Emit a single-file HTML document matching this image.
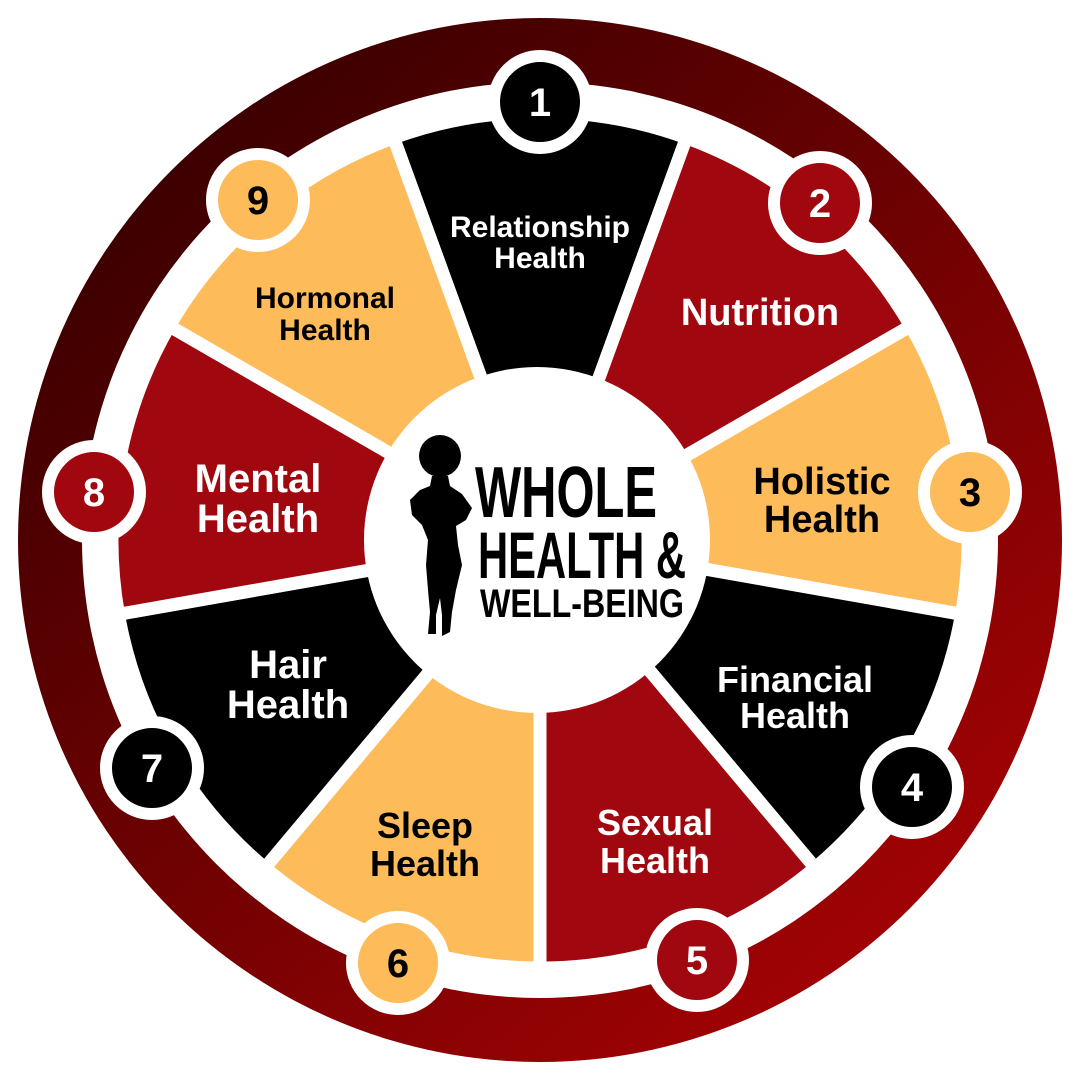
<!DOCTYPE html>
<html><head><meta charset="utf-8"><style>
html,body{margin:0;padding:0;background:#fff;}
svg{display:block}
.l{font-family:"Liberation Sans",Arial,sans-serif;font-weight:bold;text-anchor:middle}
.n{font-family:"Liberation Sans",Arial,sans-serif;font-weight:bold;text-anchor:middle;font-size:40px}
.c{font-family:"Liberation Sans",Arial,sans-serif;font-weight:bold}
</style></head><body>
<svg width="1080" height="1080" viewBox="0 0 1080 1080">
<defs>
<linearGradient id="g" x1="0.15" y1="0.1" x2="0.85" y2="0.9">
<stop offset="0" stop-color="#3a0000"/><stop offset="1" stop-color="#a30204"/>
</linearGradient>
<path id="w" d="M540,540 L393.6,137.8 A428,428 0 0 1 686.4,137.8 Z"/>
</defs>
<circle cx="540" cy="540" r="522" fill="url(#g)"/>
<circle cx="540" cy="540" r="458" fill="#fff"/>
<g stroke="#fff" stroke-width="13" stroke-linejoin="miter">
<use href="#w" fill="#000" transform="rotate(0 540 540)"/>
<use href="#w" fill="#a0070f" transform="rotate(40 540 540)"/>
<use href="#w" fill="#fdbb5a" transform="rotate(80 540 540)"/>
<use href="#w" fill="#000" transform="rotate(120 540 540)"/>
<use href="#w" fill="#a0070f" transform="rotate(160 540 540)"/>
<use href="#w" fill="#fdbb5a" transform="rotate(200 540 540)"/>
<use href="#w" fill="#000" transform="rotate(240 540 540)"/>
<use href="#w" fill="#a0070f" transform="rotate(280 540 540)"/>
<use href="#w" fill="#fdbb5a" transform="rotate(320 540 540)"/>
</g>
<circle cx="537" cy="540" r="173" fill="#fff"/>
<g stroke="#fff" stroke-width="12">
<circle cx="540" cy="102" r="46" fill="#000"/>
<circle cx="820" cy="203" r="46" fill="#a0070f"/>
<circle cx="970" cy="492" r="46" fill="#fdbb5a"/>
<circle cx="912" cy="787" r="46" fill="#000"/>
<circle cx="697" cy="960" r="46" fill="#a0070f"/>
<circle cx="398" cy="963" r="46" fill="#fdbb5a"/>
<circle cx="152" cy="768" r="46" fill="#000"/>
<circle cx="94" cy="492" r="46" fill="#a0070f"/>
<circle cx="258" cy="200" r="46" fill="#fdbb5a"/>
</g>
<g class="n">
<text x="540" y="116" fill="#fff">1</text>
<text x="820" y="217" fill="#fff">2</text>
<text x="970" y="506" fill="#000">3</text>
<text x="912" y="801" fill="#fff">4</text>
<text x="697" y="974" fill="#fff">5</text>
<text x="398" y="977" fill="#000">6</text>
<text x="152" y="782" fill="#fff">7</text>
<text x="94" y="506" fill="#fff">8</text>
<text x="258" y="214" fill="#000">9</text>
</g>
<g class="l">
<text x="540" y="237" font-size="30" fill="#fff">Relationship</text>
<text x="540" y="268" font-size="30" fill="#fff">Health</text>
<text x="760" y="325" font-size="38" fill="#fff">Nutrition</text>
<text x="822" y="494" font-size="38" fill="#000">Holistic</text>
<text x="822" y="532" font-size="38" fill="#000">Health</text>
<text x="795" y="692" font-size="36" fill="#fff">Financial</text>
<text x="795" y="728" font-size="36" fill="#fff">Health</text>
<text x="655" y="835" font-size="36" fill="#fff">Sexual</text>
<text x="655" y="873" font-size="36" fill="#fff">Health</text>
<text x="425" y="838" font-size="36" fill="#000">Sleep</text>
<text x="425" y="876" font-size="36" fill="#000">Health</text>
<text x="288" y="678" font-size="40" fill="#fff">Hair</text>
<text x="288" y="718" font-size="40" fill="#fff">Health</text>
<text x="258" y="492" font-size="40" fill="#fff">Mental</text>
<text x="258" y="532" font-size="40" fill="#fff">Health</text>
<text x="325" y="308" font-size="30" fill="#000">Hormonal</text>
<text x="325" y="340" font-size="30" fill="#000">Health</text>
</g>
<g fill="#000">
<circle cx="440" cy="456" r="21"/>
<path d="M432,476 L448,476 L450,486 L462,494 L472,508 L466,520 L456,526 L458,545 L462,565 L456,590 L452,612 L450,632 L442,636 L442,615 L440,598 L436,615 L436,634 L428,634 L430,612 L428,590 L426,565 L428,540 L422,525 L412,515 L410,500 L420,490 L430,486 Z"/>
</g>
<g class="c" fill="#000">
<text x="475" y="517" font-size="72" textLength="182" lengthAdjust="spacingAndGlyphs">WHOLE</text>
<text x="478" y="578" font-size="66" textLength="208" lengthAdjust="spacingAndGlyphs">HEALTH &amp;</text>
<text x="480" y="617" font-size="40" textLength="204" lengthAdjust="spacingAndGlyphs">WELL-BEING</text>
</g>
</svg>
</body></html>
